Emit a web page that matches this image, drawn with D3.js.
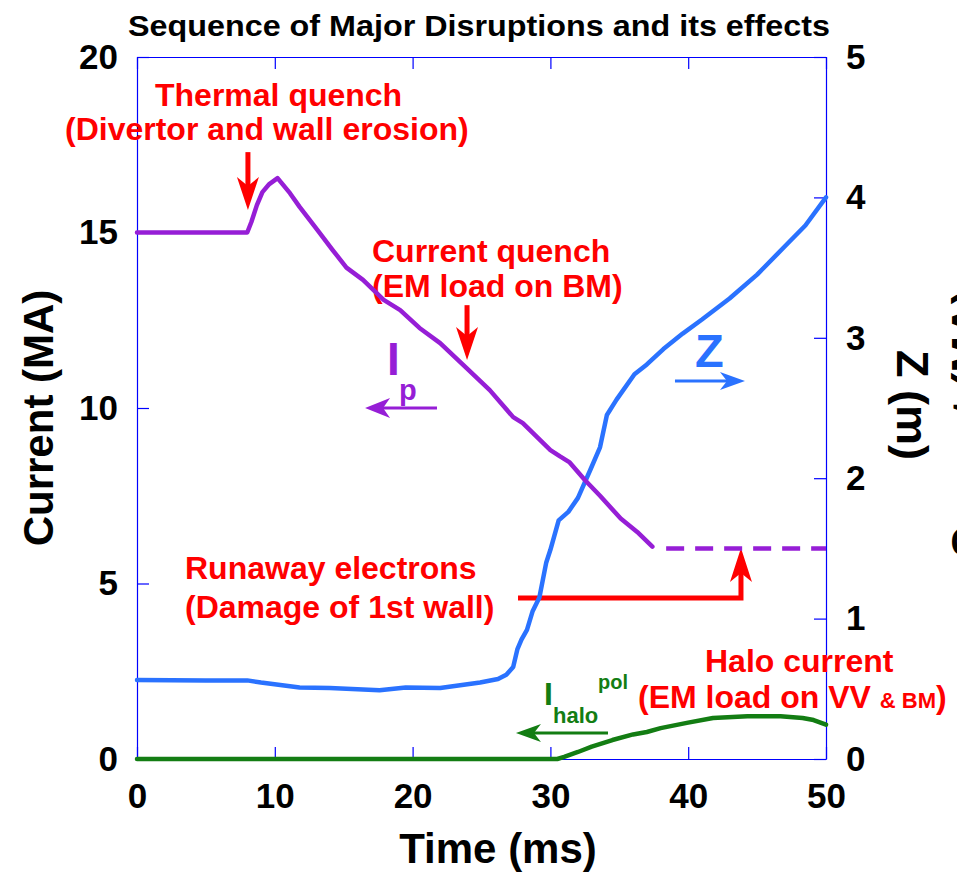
<!DOCTYPE html>
<html><head><meta charset="utf-8">
<script src="https://cdn.jsdelivr.net/npm/d3@7"></script>
<style>
body{margin:0;background:#fff}
svg{display:block}
text{font-family:"Liberation Sans",Arial,Helvetica,sans-serif;font-weight:bold}
</style>
</head><body>
<svg id="chart" width="957" height="872"></svg>
<script>
// ---------- data ----------
const timeTicks = [0, 10, 20, 30, 40, 50];
const currentTicks = [0, 5, 10, 15, 20];
const zTicks = [0, 1, 2, 3, 4, 5];

// Plasma current Ip (MA) vs time (ms)
const ipTime  = [0, 8.0, 8.3, 8.7, 9.1, 9.6, 10.2, 11.1, 11.8, 13.1, 14.2, 15.2, 16.4, 17.9, 19.1, 20.5, 22.0, 23.9, 25.6, 27.3, 28.0, 30.0, 30.7, 31.4, 32.5, 33.6, 35.1, 36.3, 37.4];
const ipValue = [15, 15, 15.3, 15.78, 16.15, 16.38, 16.55, 16.12, 15.73, 15.07, 14.5, 14.0, 13.65, 13.08, 12.79, 12.28, 11.85, 11.14, 10.51, 9.74, 9.57, 8.8, 8.62, 8.45, 7.95, 7.5, 6.85, 6.47, 6.05];
// Runaway-electron current plateau (dashed)
const runawayTime  = [38.4, 50];
const runawayValue = [6.0, 6.0];

// Vertical position Z (m) vs time (ms)
const zTime  = [0, 5, 8, 9, 11.8, 14, 17.6, 19.5, 22, 24.9, 26.2, 26.8, 27.3, 27.6, 27.9, 28.3, 28.7, 29.2, 29.7, 30.0, 30.6, 31.3, 32.0, 32.9, 33.6, 34.1, 34.8, 36.1, 37.0, 38.2, 39.6, 41.0, 43.0, 45.0, 47.0, 48.5, 50];
const zValue = [0.563, 0.56, 0.56, 0.545, 0.51, 0.505, 0.49, 0.51, 0.505, 0.545, 0.57, 0.6, 0.655, 0.78, 0.85, 0.92, 1.05, 1.15, 1.40, 1.49, 1.70, 1.76, 1.86, 2.06, 2.22, 2.45, 2.56, 2.74, 2.81, 2.92, 3.03, 3.13, 3.28, 3.45, 3.65, 3.8, 4.0];

// Poloidal halo current (MA) vs time (ms)
const haloTime  = [0, 30.5, 31.0, 32.0, 33.0, 34.5, 36.0, 37.0, 38.0, 39.9, 41.8, 44.3, 46.7, 48.3, 49.1, 50];
const haloValue = [0, 0, 0.06, 0.2, 0.35, 0.54, 0.7, 0.77, 0.88, 1.03, 1.17, 1.22, 1.22, 1.17, 1.11, 0.98];

// ---------- scales ----------
const svg = d3.select("#chart");
const x  = d3.scaleLinear().domain([0, 50]).range([137, 826]);
const yL = d3.scaleLinear().domain([0, 20]).range([759, 57]);
const yR = d3.scaleLinear().domain([0, 5]).range([759, 57]);
const fmt = d3.format("d");

const AXIS = "#0000ff", RED = "#ff0000", PURPLE = "#961ed6", BLUE = "#2a72ff", GREEN = "#137d13";

function styleAxis(g, fs) {
  g.attr("font-family", null).attr("font-size", null);
  g.select(".domain").attr("stroke", AXIS).attr("stroke-width", 1.2);
  g.selectAll(".tick line").attr("stroke", AXIS).attr("stroke-width", 1.2);
  g.selectAll(".tick text").attr("fill", "#000").style("font-size", fs + "px");
}

// ---------- axes ----------
svg.append("g").attr("transform", "translate(0,759)")
  .call(d3.axisBottom(x).tickValues(timeTicks).tickFormat(fmt).tickSizeInner(-12).tickSizeOuter(0).tickPadding(24))
  .call(g => styleAxis(g, 35));
svg.append("g").attr("transform", "translate(0,57)")
  .call(d3.axisTop(x).tickValues(timeTicks).tickSizeInner(-12).tickSizeOuter(0).tickFormat(() => ""))
  .call(g => styleAxis(g, 35));
svg.append("g").attr("transform", "translate(137,0)")
  .call(d3.axisLeft(yL).tickValues(currentTicks).tickFormat(fmt).tickSizeInner(-12).tickSizeOuter(0).tickPadding(19))
  .call(g => styleAxis(g, 35));
svg.append("g").attr("transform", "translate(826,0)")
  .call(d3.axisRight(yR).tickValues(zTicks).tickFormat(fmt).tickSizeInner(-12).tickSizeOuter(0).tickPadding(20))
  .call(g => styleAxis(g, 35));

// ---------- titles ----------
svg.append("text").attr("x", 479).attr("y", 36).attr("text-anchor", "middle")
  .attr("textLength", 702).attr("lengthAdjust", "spacingAndGlyphs")
  .style("font-size", "29px").text("Sequence of Major Disruptions and its effects");
svg.append("text").attr("x", 498).attr("y", 863).attr("text-anchor", "middle")
  .style("font-size", "42px").text("Time (ms)");
svg.append("text").attr("transform", "translate(53,418) rotate(-90)").attr("text-anchor", "middle")
  .style("font-size", "42px").text("Current (MA)");
svg.append("text").attr("transform", "translate(897,405) rotate(90)").attr("text-anchor", "middle")
  .style("font-size", "45px").text("Z (m)");
// third axis title, clipped at the right edge as in the reference
svg.append("text").attr("transform", "translate(983,424) rotate(-90)").attr("text-anchor", "middle")
  .style("font-size", "44px").text("Current (MA)");

// ---------- annotations ----------
function arrowHead(g, tx, ty, dx, dy, L, W, notch, color) {
  const px = -dy, py = dx;
  const bx = tx - L * dx, by = ty - L * dy;
  const nx = tx - (L - notch) * dx, ny = ty - (L - notch) * dy;
  g.append("path")
    .attr("d", `M${tx},${ty} L${bx + W * px},${by + W * py} L${nx},${ny} L${bx - W * px},${by - W * py} Z`)
    .attr("fill", color);
}
const ann = svg.append("g");
function redText(xp, yp, s) {
  return ann.append("text").attr("x", xp).attr("y", yp).attr("fill", RED).style("font-size", "32px").text(s);
}
redText(155, 106, "Thermal quench");
redText(65, 140, "(Divertor and wall erosion)");
redText(372, 262, "Current quench");
redText(372, 297, "(EM load on BM)");
redText(185, 579, "Runaway electrons");
redText(185, 618, "(Damage of 1st wall)");
redText(705, 672, "Halo current");
const ht = redText(638, 708, "(EM load on VV ");
ht.append("tspan").style("font-size", "22px").text("& BM");
ht.append("tspan").text(")");

// thermal quench arrow
ann.append("line").attr("x1", x(8.05)).attr("x2", x(8.05)).attr("y1", yL(17.29)).attr("y2", yL(16.3))
  .attr("stroke", RED).attr("stroke-width", 5);
arrowHead(ann, x(8.05), yL(15.64), 0, 1, 33, 11, 9, RED);
// current quench arrow
ann.append("line").attr("x1", x(23.95)).attr("x2", x(23.95)).attr("y1", yL(12.93)).attr("y2", yL(12.0))
  .attr("stroke", RED).attr("stroke-width", 5);
arrowHead(ann, x(23.95), yL(11.37), 0, 1, 33, 11, 9, RED);
// runaway arrow
ann.append("path").attr("d", `M${x(27.65)},${yL(4.59)} L${x(43.83)},${yL(4.59)} L${x(43.83)},${yL(5.3)}`)
  .attr("fill", "none").attr("stroke", RED).attr("stroke-width", 5);
arrowHead(ann, x(43.83), yL(6.01), 0, -1, 34, 11, 9, RED);

// series labels
ann.append("text").attr("x", 387).attr("y", 375).attr("fill", PURPLE).style("font-size", "46px").text("I");
ann.append("text").attr("x", 399).attr("y", 400).attr("fill", PURPLE).style("font-size", "29px").text("p");
ann.append("line").attr("x1", x(21.77)).attr("x2", x(17.5)).attr("y1", yL(10.0)).attr("y2", yL(10.0))
  .attr("stroke", PURPLE).attr("stroke-width", 3);
arrowHead(ann, x(16.55), yL(10.0), -1, 0, 25, 10, 7, PURPLE);

ann.append("text").attr("x", 695).attr("y", 367).attr("fill", BLUE).style("font-size", "47px").text("Z");
ann.append("line").attr("x1", x(39.04)).attr("x2", x(43.0)).attr("y1", yL(10.77)).attr("y2", yL(10.77))
  .attr("stroke", BLUE).attr("stroke-width", 3);
arrowHead(ann, x(44.12), yL(10.77), 1, 0, 25, 9, 7, BLUE);

ann.append("text").attr("x", 544).attr("y", 705).attr("fill", GREEN).style("font-size", "32px").text("I");
ann.append("text").attr("x", 553).attr("y", 723).attr("fill", GREEN).style("font-size", "22px").text("halo");
ann.append("text").attr("x", 598).attr("y", 689).attr("fill", GREEN).style("font-size", "20px").text("pol");
ann.append("line").attr("x1", x(34.18)).attr("x2", x(28.5)).attr("y1", yL(0.74)).attr("y2", yL(0.74))
  .attr("stroke", GREEN).attr("stroke-width", 3);
arrowHead(ann, x(27.5), yL(0.74), -1, 0, 25, 9, 7, GREEN);

// ---------- data lines ----------
function drawSeries(ts, vs, yScale, color, dash) {
  const line = d3.line().x(i => x(ts[i])).y(i => yScale(vs[i]));
  const p = svg.append("path").datum(d3.range(ts.length))
    .attr("d", line).attr("fill", "none").attr("stroke", color)
    .attr("stroke-width", 4.5).attr("stroke-linejoin", "round");
  if (dash) p.attr("stroke-dasharray", dash); else p.attr("stroke-linecap", "round");
}
drawSeries(haloTime, haloValue, yL, GREEN);
drawSeries(zTime, zValue, yR, BLUE);
drawSeries(ipTime, ipValue, yL, PURPLE);
drawSeries(runawayTime, runawayValue, yL, PURPLE, "18,11");
</script>
</body></html>
